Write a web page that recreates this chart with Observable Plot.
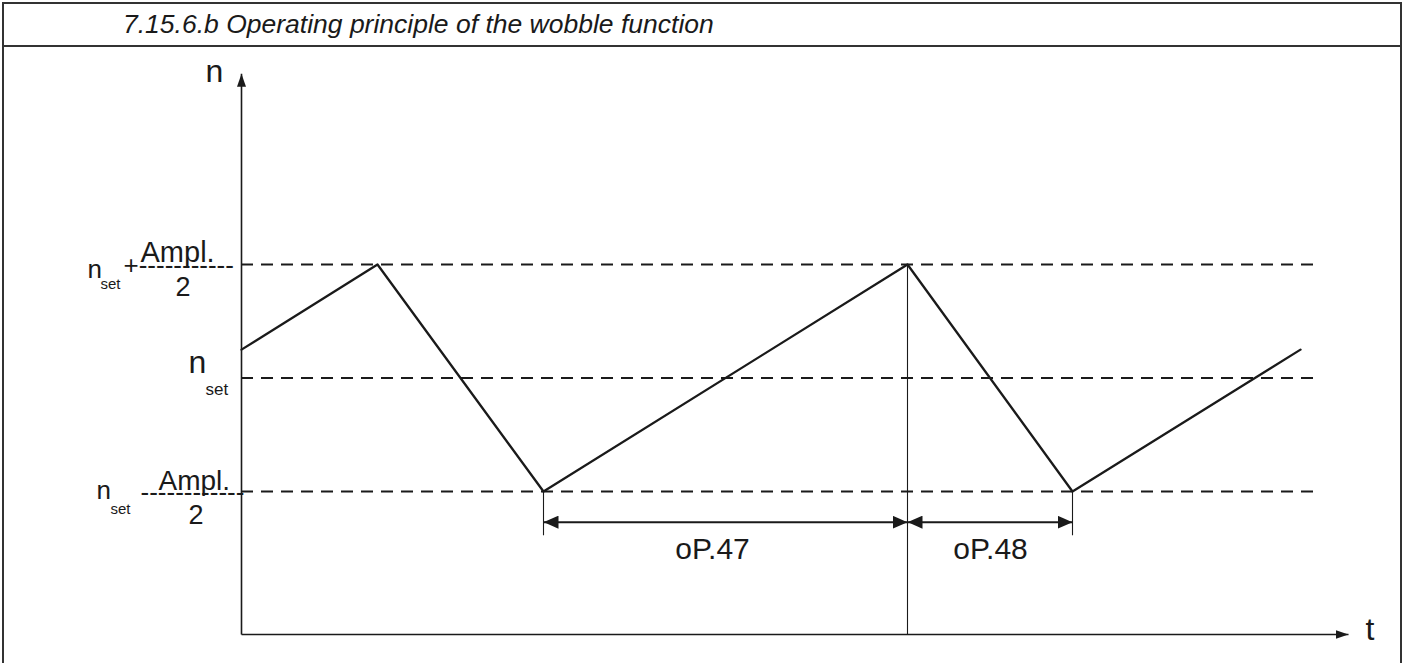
<!DOCTYPE html>
<html><head><meta charset="utf-8">
<script src="https://cdn.jsdelivr.net/npm/d3@7"></script>
<script src="https://cdn.jsdelivr.net/npm/@observablehq/plot@0.6"></script>
<style>
html,body{margin:0;padding:0;background:#fff;}
#wrap{position:relative;width:1410px;height:663px;overflow:hidden;font-family:"Liberation Sans",Arial,sans-serif;}
#chart{position:absolute;left:0;top:0;}
#box{position:absolute;left:2px;top:2px;width:1400px;height:700px;border:2px solid #333;box-sizing:border-box;pointer-events:none;}
#title{position:absolute;left:0;top:0;width:100%;height:43px;border-bottom:2px solid #333;box-sizing:border-box;font-style:italic;font-size:26.5px;color:#1a1a1a;padding-left:119px;line-height:40px;}
</style></head><body>
<div id="wrap"><div id="chart"></div><div id="box"><div id="title"></div></div></div>
<script>
// ---- data ----
const titleText = "7.15.6.b Operating principle of the wobble function";
// speed levels (n_set = 0, n_set ± Ampl./2 = ±1)
const levelValues = [1, 0, -1];
// wobble speed profile: time (arbitrary units) and speed n
const wobbleT = [0, 13.6, 30.2, 66.6, 83.1, 105.9];
const wobbleN = [0.25, 1, -1, 1, -1, 0.25];
// dimension spans
const spanNames = ["oP.47", "oP.48"];
const spanStart = [30.2, 66.6];
const spanEnd = [66.6, 83.1];
const spanLabelT = [47.1, 74.9];
const spanLevel = -1.27;
const spanTickEnd = -1.39;
// axes extents
const tMax = 110.7, nMin = -2.26, nMax = 2.68, dashEnd = 107.9;
const axisNames = ["n", "t"];

document.getElementById("title").textContent = titleText;

// filled arrow head marker
function solidArrow(len, half) {
  return (color) => {
    const m = d3.create("svg:marker")
      .attr("viewBox", `${-len} ${-half} ${len} ${2 * half}`)
      .attr("markerWidth", len)
      .attr("markerHeight", 2 * half)
      .attr("markerUnits", "userSpaceOnUse")
      .attr("orient", "auto-start-reverse")
      .attr("fill", color)
      .attr("stroke", "none");
    m.append("path").attr("d", `M0,0L${-len},${-half}L${-len},${half}Z`);
    return m.node();
  };
}

const ink = "#1a1a1a";
const font = "Liberation Sans, Arial, sans-serif";
const wobble = wobbleT.map((t, i) => ({t, n: wobbleN[i]}));
const spans = spanNames.map((name, i) => ({name, a: spanStart[i], b: spanEnd[i], lt: spanLabelT[i]}));

function lab(text, t, n, dx, dy, size) {
  return Plot.text([text], {x: () => t, y: () => n, text: d => d, dx, dy, fontSize: size,
    textAnchor: "start", lineAnchor: "bottom", fill: ink, fontFamily: font});
}

const chart = Plot.plot({
  width: 1410, height: 663,
  marginTop: 0, marginRight: 0, marginBottom: 0, marginLeft: 0,
  x: {domain: [0, 100], range: [241, 1241], axis: null},
  y: {domain: [-1, 1], range: [491, 264], axis: null},
  style: {background: "white"},
  marks: [
    // dashed speed levels
    Plot.ruleY(levelValues, {x1: () => 0, x2: () => dashEnd, stroke: ink, strokeWidth: 2, strokeDasharray: "12,8"}),
    // axes with arrows
    Plot.link([{x1: 0, y1: nMin, x2: 0, y2: nMax}], {x1: "x1", y1: "y1", x2: "x2", y2: "y2", stroke: ink, strokeWidth: 1.6, markerEnd: solidArrow(13, 4.5)}),
    Plot.link([{x1: 0, y1: nMin, x2: tMax, y2: nMin}], {x1: "x1", y1: "y1", x2: "x2", y2: "y2", stroke: ink, strokeWidth: 1.6, markerEnd: solidArrow(13, 4.5)}),
    // vertical reference at the peak
    Plot.ruleX([spanStart[1]], {y1: () => 1, y2: () => nMin, stroke: ink, strokeWidth: 1.1}),
    // dimension ticks
    Plot.ruleX([spanStart[0], spanEnd[1]], {y1: () => -1, y2: () => spanTickEnd, stroke: ink, strokeWidth: 1.1}),
    // dimension arrows
    Plot.link(spans, {x1: "a", x2: "b", y1: () => spanLevel, y2: () => spanLevel, stroke: ink, strokeWidth: 2,
      markerStart: solidArrow(15, 6.5), markerEnd: solidArrow(15, 6.5)}),
    Plot.text(spans, {x: "lt", y: () => spanLevel, text: "name", dy: 37, fontSize: 30, lineAnchor: "bottom", fill: ink, fontFamily: font}),
    // wobble profile
    Plot.line(wobble, {x: "t", y: "n", stroke: ink, strokeWidth: 2.3}),
    // axis names
    lab(axisNames[0], 0, nMax, -36, 8, 32),
    lab(axisNames[1], tMax, nMin, 17, 5, 32),
    // level labels: n_set + Ampl./2
    lab("n", 0, levelValues[0], -154, 13, 26),
    lab("set", 0, levelValues[0], -141, 24, 15),
    lab("+-----------", 0, levelValues[0], -118, 9, 26),
    lab("Ampl.", 0, levelValues[0], -101, -3, 29),
    lab("2", 0, levelValues[0], -66, 31, 27),
    // n_set
    lab("n", 0, levelValues[1], -53, -5, 32),
    lab("set", 0, levelValues[1], -36, 17, 17),
    // n_set - Ampl./2
    lab("n", 0, levelValues[2], -145, 7, 26),
    lab("set", 0, levelValues[2], -131, 22, 15),
    lab("------------", 0, levelValues[2], -101, 9, 26),
    lab("Ampl.", 0, levelValues[2], -83, -2, 28),
    lab("2", 0, levelValues[2], -53, 32, 27)
  ]
});
document.getElementById("chart").appendChild(chart);
</script>
</body></html>
